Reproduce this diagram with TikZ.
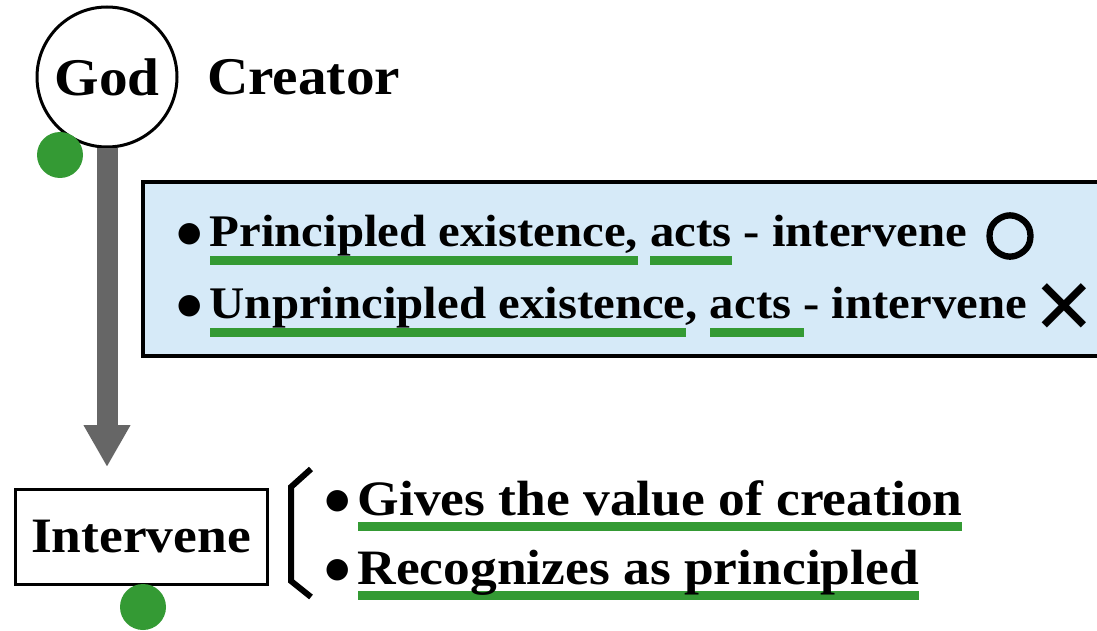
\documentclass[tikz,border=0pt]{standalone}
\usepackage{fontspec}
\setmainfont{Liberation Serif}[FakeStretch=1.08]
\newfontfamily\symfont{DejaVu Sans}
\newfontfamily\markfont{DejaVu Sans}[FakeBold=5]
\usetikzlibrary{arrows.meta}

% green bar under a word, #1 drop below the baseline
\newcommand\gul[2][19pt]{\setbox0=\hbox{#2}\rlap{\color{ugreen}\rule[-#1]{\wd0}{9pt}}\box0\relax}
% the round bullet, #1 lift above the baseline
\newcommand\bulmark[1][5pt]{\raisebox{#1}{\symfont\fontsize{28}{28}\selectfont\char"25CF}}

\begin{document}
\begin{tikzpicture}[x=1pt, y=-1pt,
  bigtext/.style={font=\bfseries\fontsize{53}{60}\selectfont},
  paneltext/.style={anchor=base west, inner sep=0pt, font=\bfseries\fontsize{45.2}{50}\selectfont},
  listtext/.style={anchor=base west, inner sep=0pt, font=\bfseries\fontsize{49.5}{56}\selectfont},
  gdot/.style={circle, fill=ugreen, inner sep=0pt, minimum size=46pt}]
  \definecolor{ugreen}{RGB}{52,154,52}
  \definecolor{panelblue}{RGB}{214,234,248}
  \definecolor{arrowgray}{RGB}{102,102,102}
  \useasboundingbox (0,0) rectangle (1097,631);

  % ---- the blue panel, its right side runs off the page --------------------
  \draw[fill=panelblue, line width=4pt] (143,182) rectangle (1120,356);
  \foreach \i/\yy/\row in {%
    1/246/{\gul{Principled existence,} \gul{acts} - intervene},
    2/318/{\gul{Unprincipled existence}, \gul{acts\ }- intervene}%
  }{
    \node[paneltext] (panelrow\i) at (177,\yy) {\bulmark\kern8pt\row};
  }
  \node[font=\markfont\fontsize{58}{58}\selectfont, inner sep=0pt] (okmark) at (1010,236) {○};
  \node[font=\symfont\fontsize{76}{76}\selectfont, inner sep=0pt] (ngmark) at (1064,309) {✕};

  % ---- God and the arrow down ----------------------------------------------
  \node[bigtext, circle, draw, line width=3pt, minimum size=140pt, inner sep=0pt] (god) at (107,77) {God};
  \node[bigtext, anchor=base west, inner sep=0pt] (creator) at (207,95) {Creator};
  \coordinate (tip) at (107,467);
  \draw[arrowgray, line width=21pt, -{Triangle[length=42pt 0, width=44pt 0]}] (god.south) -- (tip);
  \node[gdot] (goddot) at (60,155) {};

  % ---- Intervene and what it does ------------------------------------------
  \node[listtext, anchor=center, draw, line width=3pt, minimum width=252pt, minimum height=95pt] (ivbox) at (141,536.5) {Intervene};
  \node[gdot] (ivdot) at (143,607) {};
  \draw[line width=6pt] (311,469) -- (291,487) -- (291,581) -- (311,597);
  \foreach \i/\yy/\row in {%
    1/515/{Gives the value of creation},
    2/584/{Recognizes as principled}%
  }{
    \node[listtext] (ivrow\i) at (325,\yy) {\bulmark[7pt]\kern8pt\gul[16pt]{\row}};
  }
\end{tikzpicture}
\end{document}
